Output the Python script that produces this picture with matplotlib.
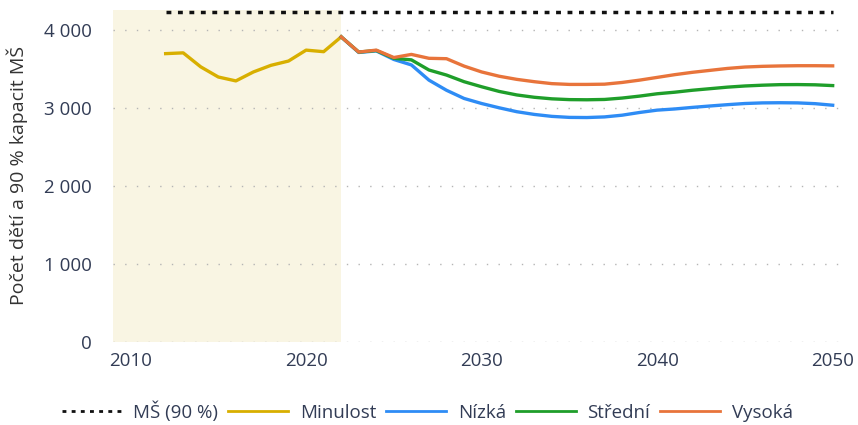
import matplotlib.pyplot as plt
from matplotlib.ticker import FuncFormatter

# historical values (Minulost)
years_past = list(range(2012, 2023))
minulost = [3700, 3710, 3530, 3400, 3350, 3465, 3550, 3605, 3745, 3725, 3915]

# projections 2022-2050
years_proj = list(range(2022, 2051))
vysoka = [3915, 3720, 3745, 3650, 3690, 3640, 3635, 3540, 3465, 3410, 3370, 3340, 3315, 3305, 3305,
          3308, 3330, 3360, 3395, 3430, 3460, 3485, 3510, 3528, 3537, 3542, 3545, 3545, 3543]
stredni = [3915, 3720, 3740, 3640, 3620, 3490, 3425, 3340, 3275, 3215, 3170, 3140, 3120, 3110, 3108,
           3112, 3130, 3155, 3185, 3205, 3230, 3250, 3270, 3285, 3295, 3302, 3303, 3300, 3290]
nizka = [3915, 3715, 3735, 3625, 3555, 3360, 3230, 3125, 3060, 3005, 2955, 2920, 2895, 2882, 2880,
         2888, 2910, 2945, 2975, 2990, 3010, 3028, 3045, 3060, 3068, 3070, 3068, 3058, 3038]

# capacity of kindergartens (90 %)
ms_years = [2012, 2050]
ms_value = [4240, 4240]

plt.rcParams['font.family'] = ['Open Sans', 'DejaVu Sans']
txt_color = '#323C55'

fig = plt.figure(figsize=(8.58, 4.25), dpi=100)
ax = fig.add_axes([0.1317, 0.1953, 0.8531, 0.7812])

# shaded past period
ax.axvspan(2009, 2022, color='#F9F5E3', zorder=0, lw=0)

ax.plot(ms_years, ms_value, linestyle=(0, (1.4, 1.9)), color='#111111', lw=2.5, label='MŠ (90 %)')
ax.plot(years_past, minulost, color='#D8AF00', lw=2.4, label='Minulost')
ax.plot(years_proj, nizka, color='#2E8CF5', lw=2.4, label='Nízká')
ax.plot(years_proj, stredni, color='#1F9E2A', lw=2.4, label='Střední')
ax.plot(years_proj, vysoka, color='#E8743B', lw=2.4, label='Vysoká')

ax.set_xlim(2009, 2050.7)
ax.set_ylim(0, 4260)
ax.set_yticks([0, 1000, 2000, 3000, 4000])
ax.set_xticks([2010, 2020, 2030, 2040, 2050])
ax.yaxis.set_major_formatter(FuncFormatter(lambda v, p: f'{int(v):,}'.replace(',', ' ')))
ax.grid(axis='y', linestyle=(0, (1, 7.4)), color='#B5B5B5', lw=1)
ax.set_axisbelow(True)
for s in ax.spines.values():
    s.set_visible(False)
ax.tick_params(length=0, labelsize=13.5, labelcolor=txt_color)
ax.tick_params(axis='y', pad=15)
ax.tick_params(axis='x', pad=7)

ax.set_ylabel('Počet dětí a 90 % kapacit MŠ', fontsize=14, color='#333333', labelpad=12)

leg = fig.legend(loc='center', bbox_to_anchor=(0.498, 0.032), ncol=5, frameon=False,
                 fontsize=13.5, handlelength=3.2, handletextpad=0.6, columnspacing=0.55)
for t in leg.get_texts():
    t.set_color(txt_color)
for h in leg.legend_handles:
    h.set_linewidth(2)

fig.savefig('out.png', dpi=100)
